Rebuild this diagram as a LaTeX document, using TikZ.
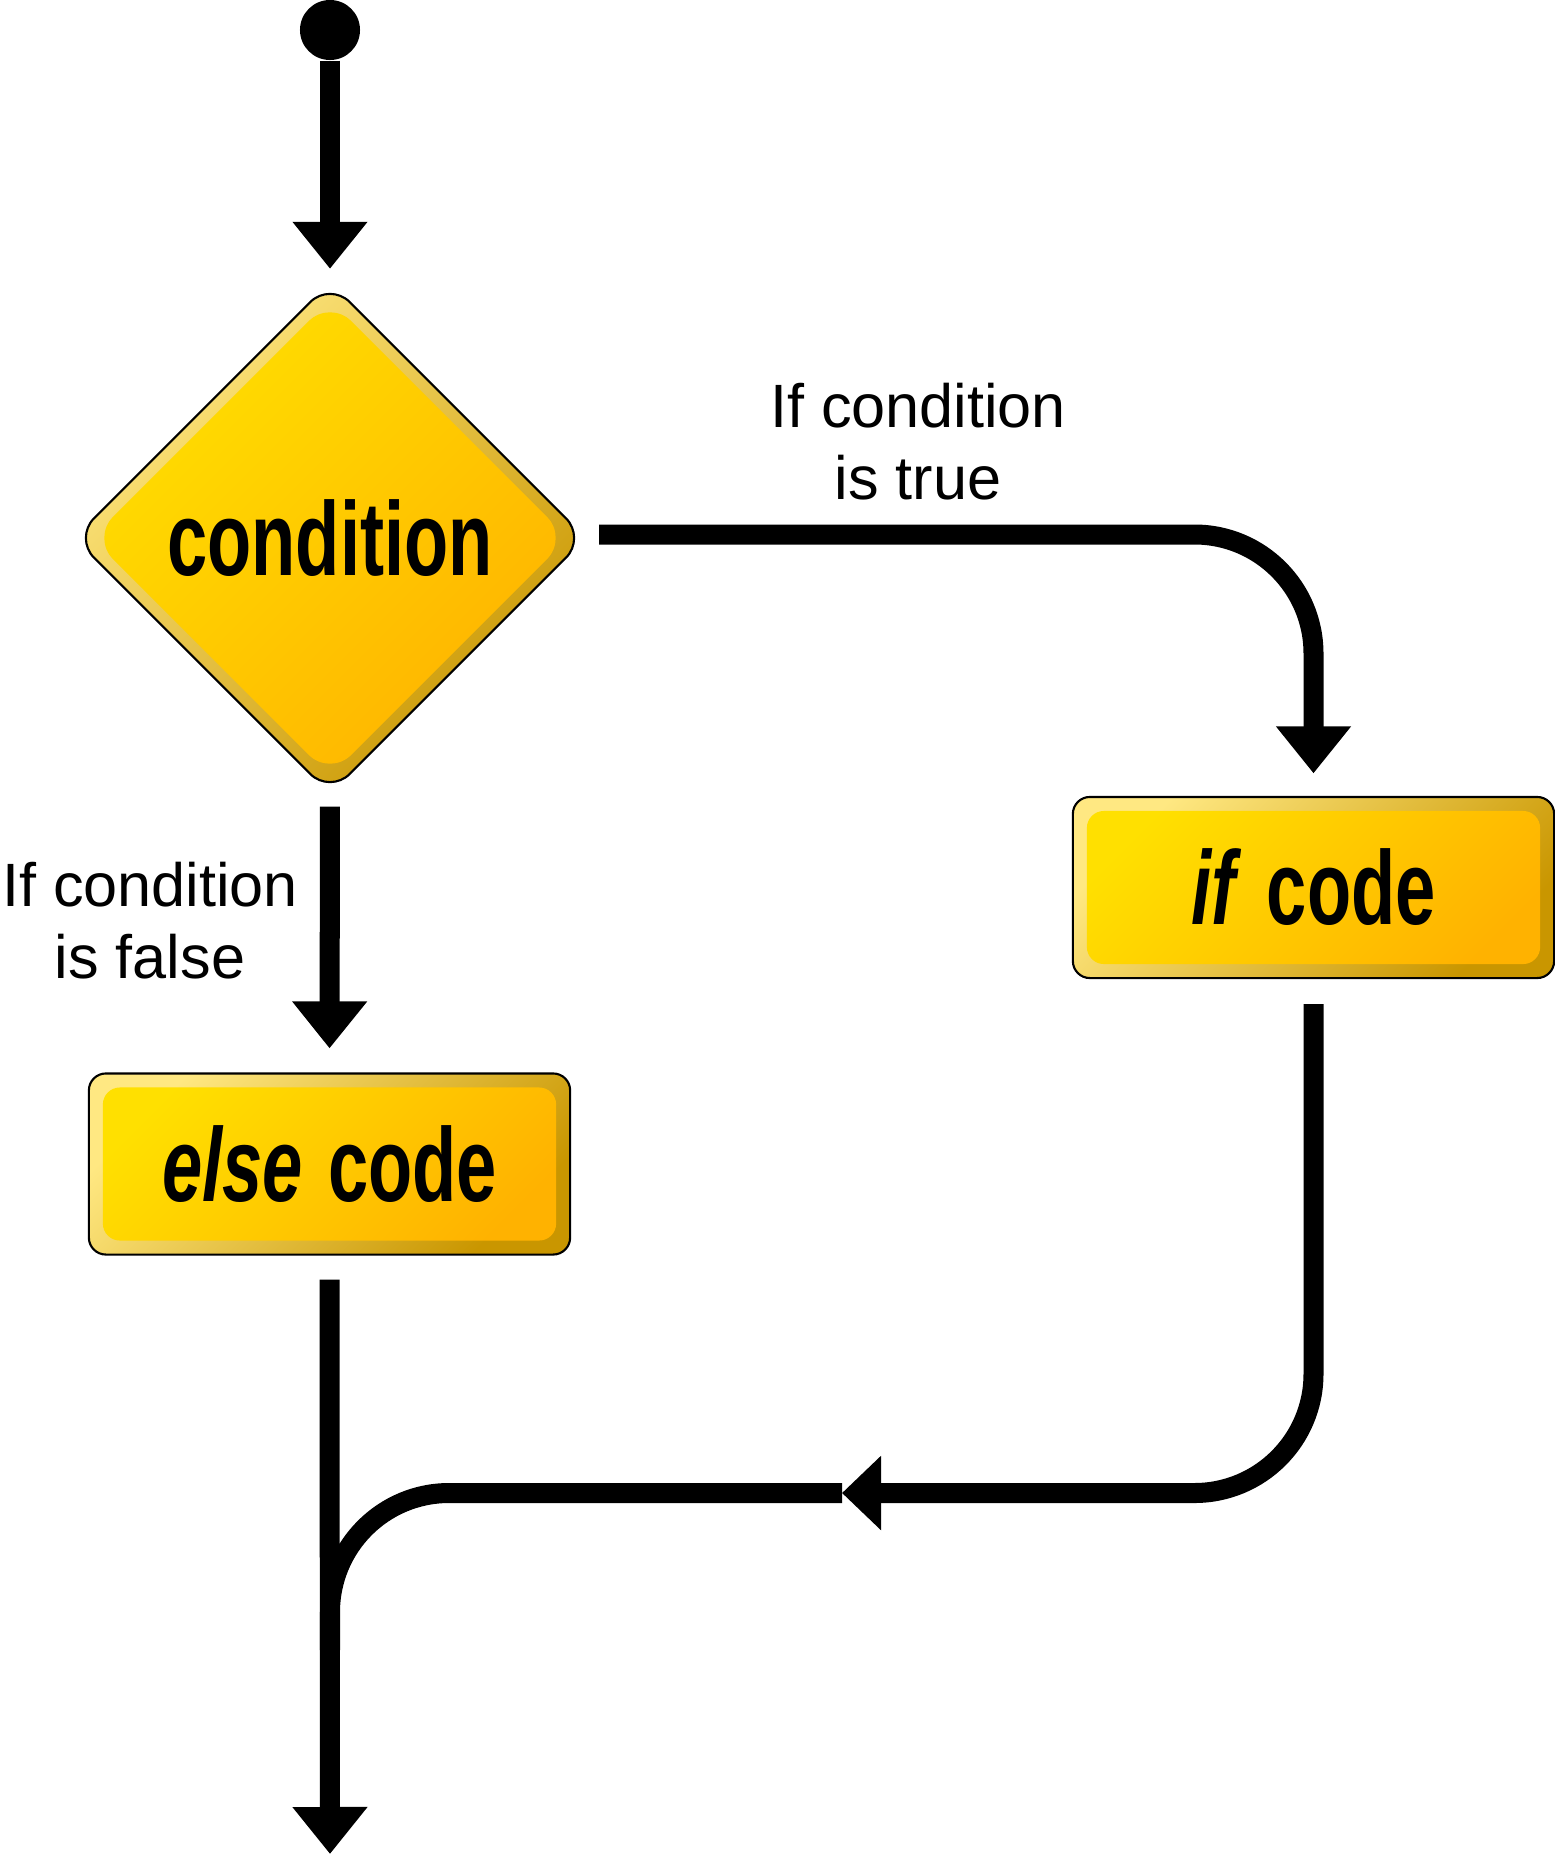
\documentclass[tikz,border=0pt]{standalone}
\usepackage{fontspec}
\setmainfont{Liberation Sans}
\newfontfamily\signfont[FakeStretch=0.69]{Liberation Sans}
\usepackage{tikz}
\usetikzlibrary{shapes.geometric}
\usetikzlibrary{arrows.meta}
\usetikzlibrary{calc}
\definecolor{bevelhi}{RGB}{255,232,130}
\definecolor{bevello}{RGB}{201,150,0}
\definecolor{signhi}{RGB}{255,224,0}
\definecolor{signlo}{RGB}{255,178,0}

\tikzset{
  signtext/.style={font=\signfont\bfseries\fontsize{29.8pt}{32pt}\selectfont},
  note/.style={align=center, font=\fontsize{17.4pt}{20.5pt}\selectfont},
  startdot/.style={circle, fill=black, minimum size=0.6cm, inner sep=0pt},
  decision/.style={diamond, aspect=1, minimum width=2*\condrad, minimum height=2*\condrad,
    inner sep=0pt, rounded corners=0.28cm, draw=black, line width=0.6pt,
    top color=bevelhi, bottom color=bevello, shading angle=45, signtext,
    path picture={
      \shade[rounded corners=0.3cm, top color=signhi, bottom color=signlo, shading angle=45]
        ($(path picture bounding box.center)+(0cm,\innerrad)$)
        -- ($(path picture bounding box.center)+(\innerrad,0cm)$)
        -- ($(path picture bounding box.center)+(0cm,-\innerrad)$)
        -- ($(path picture bounding box.center)+(-\innerrad,0cm)$) -- cycle;
    }},
  codebox/.style={rectangle, minimum width=4.81cm, minimum height=1.81cm,
    inner sep=0pt, rounded corners=0.17cm, draw=black, line width=0.6pt,
    top color=bevelhi, bottom color=bevello, shading angle=45, signtext,
    path picture={
      \shade[rounded corners=0.17cm, top color=signhi, bottom color=signlo, shading angle=45]
        ($(path picture bounding box.south west)+(0.14cm,0.14cm)$)
        rectangle ($(path picture bounding box.north east)+(-0.14cm,-0.14cm)$);
    }},
  flow/.style={line width=0.2cm, -{Triangle[width=0.72cm,length=0.47cm]}}
}

\begin{document}
\begin{tikzpicture}[x=0.01cm, y=-0.01cm]
  \def\condrad{2.56cm}
  \def\innerrad{2.38cm}
  \def\bendrad{1.19cm}

  \useasboundingbox (0,0) rectangle (1555,1854);

  % shapes
  \node[startdot] (start) at (330,30) {};
  \node[decision] (cond) at (330,538) {condition};
  \node[codebox] (ifcode) at (1313.5,887.5) {\textit{if}\hspace{1.5pt} code};
  \node[codebox] (elsecode) at (329.5,1164) {\textit{else}\hspace{1.5pt} code};

  \coordinate (mid) at (842,1493);
  \coordinate (join) at (330,1650);
  \coordinate (finish) at (330,1854);

  % labels
  \node[note] (truelbl) at (918,442) {If condition\\is true};
  \node[note] (falselbl) at (150,921) {If condition\\is false};

  % connectors
  \draw[flow, shorten >=0.12cm] (start) -- (cond.north);
  \draw[flow, rounded corners=\bendrad, shorten <=0.12cm, shorten >=0.225cm]
    ([yshift=0.035cm]cond.east) -| (ifcode.north);
  \draw[flow, shorten <=0.115cm, shorten >=0.24cm] (cond.south) -- (elsecode.north);
  \draw[flow, shorten <=0.24cm] (elsecode.south) -- (finish);
  \draw[line width=0.2cm, rounded corners=\bendrad, shorten <=0.25cm,
    -{Triangle[width=0.72cm,length=0.39cm]}] (ifcode.south) |- (mid);
  \draw[line width=0.2cm, rounded corners=\bendrad] (mid) -| (join);
\end{tikzpicture}
\end{document}
